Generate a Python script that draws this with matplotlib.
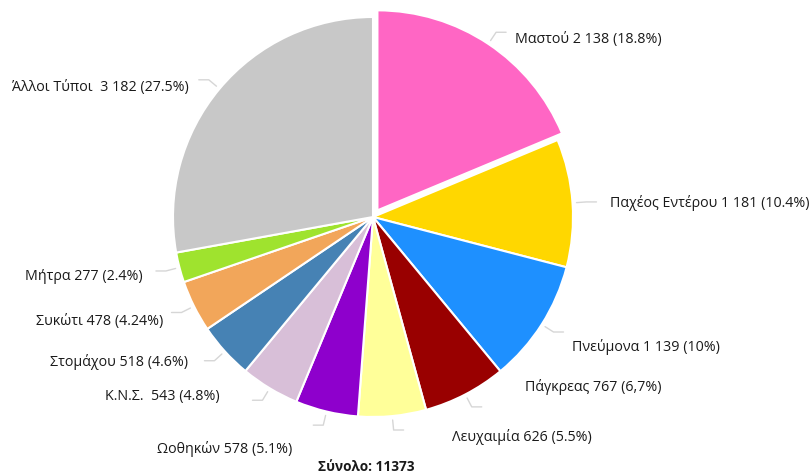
import numpy as np
import matplotlib
matplotlib.use("Agg")
import matplotlib.pyplot as plt

categories = ["Μαστού", "Παχέος Εντέρου", "Πνεύμονα", "Πάγκρεας", "Λευχαιμία",
              "Ωοθηκών", "Κ.Ν.Σ.", "Στομάχου", "Συκώτι", "Μήτρα", "Άλλοι Τύποι"]
values = [2138, 1181, 1139, 767, 626, 578, 543, 518, 478, 277, 3182]
labels = ["Μαστού 2 138 (18.8%)", "Παχέος Εντέρου 1 181 (10.4%)", "Πνεύμονα 1 139 (10%)",
          "Πάγκρεας 767 (6,7%)", "Λευχαιμία 626 (5.5%)", "Ωοθηκών 578 (5.1%)",
          "Κ.Ν.Σ.  543 (4.8%)", "Στομάχου 518 (4.6%)", "Συκώτι 478 (4.24%)",
          "Μήτρα 277 (2.4%)", "Άλλοι Τύποι  3 182 (27.5%)"]
total_text = "Σύνολο: 11373"

colors = ["#FF66C4", "#FFD700", "#1E90FF", "#990000", "#FFFF99", "#8E00CC",
          "#D8BFD8", "#4682B4", "#F2A65A", "#9FE32E", "#C8C8C8"]
explode = [8] + [0] * 10

# label layout in pixel space (x, y from top, horizontal alignment)
label_pos = [(515, 40, "left"), (610, 203, "left"), (572, 347, "left"),
             (525, 387, "left"), (452, 437, "left"), (292, 449, "right"),
             (220, 397, "right"), (188, 362, "right"), (163, 321, "right"),
             (143, 276, "right"), (189, 88, "right")]

W, H = 812, 477
fig = plt.figure(figsize=(W / 100, H / 100), dpi=100)
ax = fig.add_axes([0, 0, 1, 1])

cx, cy, R = 373, H - 218, 200
wedges, _ = ax.pie(values, colors=colors, explode=explode, startangle=90,
                   counterclock=False, radius=R, center=(cx, cy),
                   wedgeprops=dict(edgecolor="white", linewidth=1.5), frame=True)
ax.set_xlim(0, W)
ax.set_ylim(0, H)
ax.set_aspect("equal")
ax.axis("off")

fam = ["Open Sans", "DejaVu Sans"]
for w, lab, (tx, ty, ha) in zip(wedges, labels, label_pos):
    ang = np.deg2rad((w.theta1 + w.theta2) / 2)
    ux, uy = np.cos(ang), np.sin(ang)
    wcx, wcy = w.center
    p1 = (wcx + (R + 4) * ux, wcy + (R + 4) * uy)
    p2 = (wcx + (R + 14) * ux, wcy + (R + 14) * uy)
    tail = 10 if ux >= 0 else -10
    ax.plot([p1[0], p2[0], p2[0] + tail], [p1[1], p2[1], p2[1]], color="#D6D6D6",
            lw=1.0, solid_capstyle="round")
    ax.text(tx, H - ty, lab, ha=ha, va="center", fontsize=10.3, family=fam, color="#1a1a1a")

ax.text(366, H - 467, total_text, ha="center", va="center", fontsize=9.8,
        fontweight="bold", family=fam, color="#1a1a1a")

fig.savefig("out.png", dpi=100, facecolor="white")
